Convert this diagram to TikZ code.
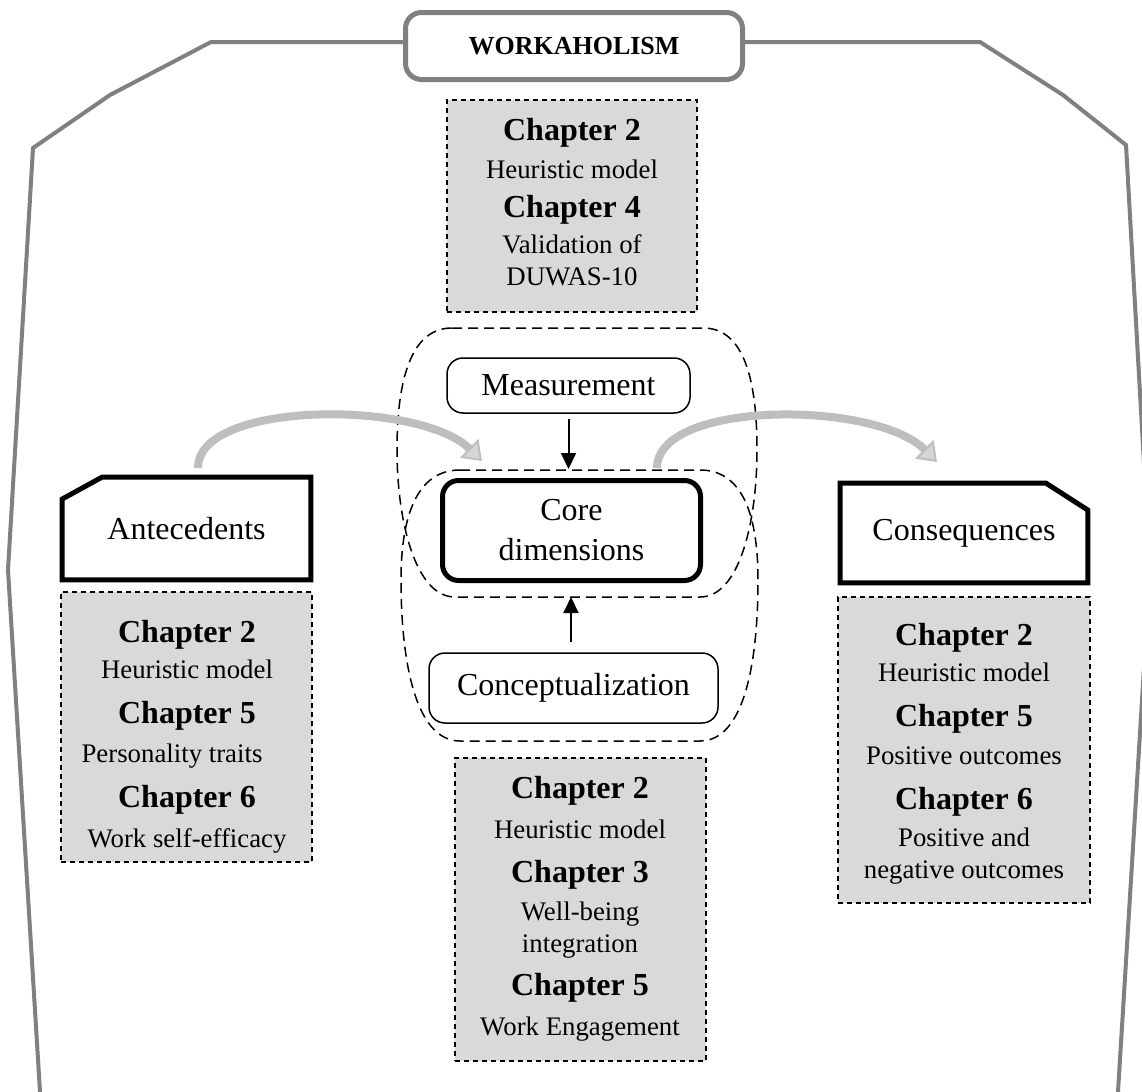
\documentclass[tikz,border=0pt]{standalone}
\usepackage{fontspec}
\setmainfont{Liberation Serif}
\usetikzlibrary{arrows.meta,calc}

\definecolor{framegray}{HTML}{808080}
\definecolor{boxfill}{HTML}{D9D9D9}
\definecolor{flowgray}{HTML}{BEBEBE}
\definecolor{flowfill}{HTML}{D6D6D6}

\tikzset{
  frameline/.style={draw=framegray, line width=2pt, line join=miter},
  wkbox/.style={draw=framegray, line width=2.5pt, rounded corners=8pt, fill=white,
    minimum width=168.5pt, minimum height=33.5pt, inner sep=0pt,
    font=\fontsize{13}{15}\selectfont\bfseries},
  chapbox/.style={draw, dash pattern=on 2.5pt off 2pt, line width=0.7pt, fill=boxfill, inner sep=0pt},
  zone/.style={draw, dash pattern=on 5pt off 3pt, line width=0.75pt},
  thinbox/.style={draw, line width=0.75pt, rounded corners=8pt, fill=white, inner sep=0pt,
    font=\fontsize{16}{20}\selectfont},
  corebox/.style={draw, line width=2.5pt, rounded corners=8pt, fill=white, inner sep=0pt,
    align=center, font=\fontsize{16}{20}\selectfont},
  labelbox/.style={inner sep=0pt, font=\fontsize{16}{20}\selectfont},
  cutline/.style={draw, line width=2.5pt, line join=miter},
  chap/.style={anchor=base, inner sep=0pt, font=\fontsize{16}{18}\selectfont\bfseries},
  desc/.style={anchor=base, inner sep=0pt, font=\fontsize{13.4}{16}\selectfont},
  linkarrow/.style={draw, line width=1pt, -{Triangle[length=8pt,width=7.5pt]}},
  flowarrow/.style={draw=flowgray, line width=4pt,
    -{Triangle[length=9pt,width=13pt,line width=1pt,fill=flowfill]}},
}

\begin{document}
\begin{tikzpicture}[x=0.5pt,y=-0.5pt]
\useasboundingbox (0,0) rectangle (1142,1092);
\clip (0,0) rectangle (1142,1092);
\fill[white] (0,0) rectangle (1142,1092);

% title and outer frame
\node[wkbox] (wk) at (574,46) {WORKAHOLISM};
\coordinate (topline) at (0,42);
\draw[frameline] (wk.west |- topline) -- (211,42) -- (110,95) -- (33,148) -- (8,570) -- (40.5,1100);
\draw[frameline] (wk.east |- topline) -- (980,42) -- (1063,95) -- (1126,145) -- (1150,570) -- (1117.5,1100);

% chapter boxes
\node[chapbox, minimum width=125pt, minimum height=106pt] (topbox) at (572,206) {};
\node[chapbox, minimum width=125.5pt, minimum height=135pt] (leftbox) at (186.5,727) {};
\node[chapbox, minimum width=125.5pt, minimum height=151.5pt] (botbox) at (580.5,909.5) {};
\node[chapbox, minimum width=126pt, minimum height=153pt] (rightbox) at (964,750) {};

% top box text
\node[chap] (t1) at (572,140) {Chapter 2};
\node[desc] (t2) at (572,178) {Heuristic model};
\node[chap] (t3) at (572,217) {Chapter 4};
\node[desc] (t4) at (572,253) {Validation of};
\node[desc] (t5) at (572,285) {DUWAS-10};

% left box text
\node[chap] (l1) at (187,642) {Chapter 2};
\node[desc] (l2) at (187,678) {Heuristic model};
\node[chap] (l3) at (187,723) {Chapter 5};
\node[desc] (l4) at (172,762) {Personality traits};
\node[chap] (l5) at (187,807) {Chapter 6};
\node[desc] (l6) at (187,847) {Work self-efficacy};

% bottom box text
\node[chap] (b1) at (580,798) {Chapter 2};
\node[desc] (b2) at (580,838) {Heuristic model};
\node[chap] (b3) at (580,882) {Chapter 3};
\node[desc] (b4) at (580,920) {Well-being};
\node[desc] (b5) at (580,952) {integration};
\node[chap] (b6) at (580,995) {Chapter 5};
\node[desc] (b7) at (580,1035) {Work Engagement};

% right box text
\node[chap] (r1) at (964,645) {Chapter 2};
\node[desc] (r2) at (964,681) {Heuristic model};
\node[chap] (r3) at (964,726) {Chapter 5};
\node[desc] (r4) at (964,764) {Positive outcomes};
\node[chap] (r5) at (964,809) {Chapter 6};
\node[desc] (r6) at (964,846) {Positive and};
\node[desc] (r7) at (964,878) {negative outcomes};

% dashed egg-shaped zones around the central boxes
\draw[zone] (452,328) -- (703,328) .. controls (740,328) and (757,370) .. (757,450)
  .. controls (757,520) and (740,597) .. (700,597) -- (455,597)
  .. controls (415,597) and (397,520) .. (397,450)
  .. controls (397,370) and (415,328) .. (452,328) -- cycle;
\draw[zone] (460,470) -- (700,470) .. controls (740,470) and (758,510) .. (758,580)
  .. controls (758,660) and (745,741) .. (700,741) -- (460,741)
  .. controls (415,741) and (401,660) .. (401,580)
  .. controls (401,510) and (420,470) .. (460,470) -- cycle;

% central boxes
\node[thinbox, minimum width=121.5pt, minimum height=27.5pt] (meas) at (568.5,385.5) {Measurement};
\node[corebox, minimum width=129pt, minimum height=50pt] (core) at (571.5,530.5) {Core\\dimensions};
\node[thinbox, minimum width=144.5pt, minimum height=35pt] (concept) at (573.5,688) {Conceptualization};

\coordinate (mtip) at (568.5,469);
\coordinate (ctip) at (571,597);
\draw[linkarrow, shorten <=2.5pt] (meas.south) -- (mtip);
\draw[linkarrow] ($(concept.north)+(-2.5,-10)$) -- (ctip);

% antecedents and consequences
\node[labelbox, minimum width=124pt, minimum height=51pt] (ante) at (186.5,528.5) {Antecedents};
\draw[cutline] ($(ante.north west)+(40,0)$) -- (ante.north east) -- (ante.south east)
  -- (ante.south west) -- ($(ante.north west)+(0,22)$) -- cycle;
\node[labelbox, minimum width=123.5pt, minimum height=49.5pt] (cons) at (964,533) {Consequences};
\draw[cutline] (cons.north west) -- ($(cons.north east)+(-42,0)$) -- ($(cons.north east)+(0,27)$)
  -- (cons.south east) -- (cons.south west) -- cycle;

% curved flow arrows
\coordinate (a1s) at (198,468);
\coordinate (a1e) at (482,461);
\coordinate (a2s) at (657,468);
\coordinate (a2e) at (937,462);
\draw[flowarrow] (a1s) .. controls (198,400) and (420,400) .. (a1e);
\draw[flowarrow] (a2s) .. controls (657,400) and (875,400) .. (a2e);
\end{tikzpicture}
\end{document}
